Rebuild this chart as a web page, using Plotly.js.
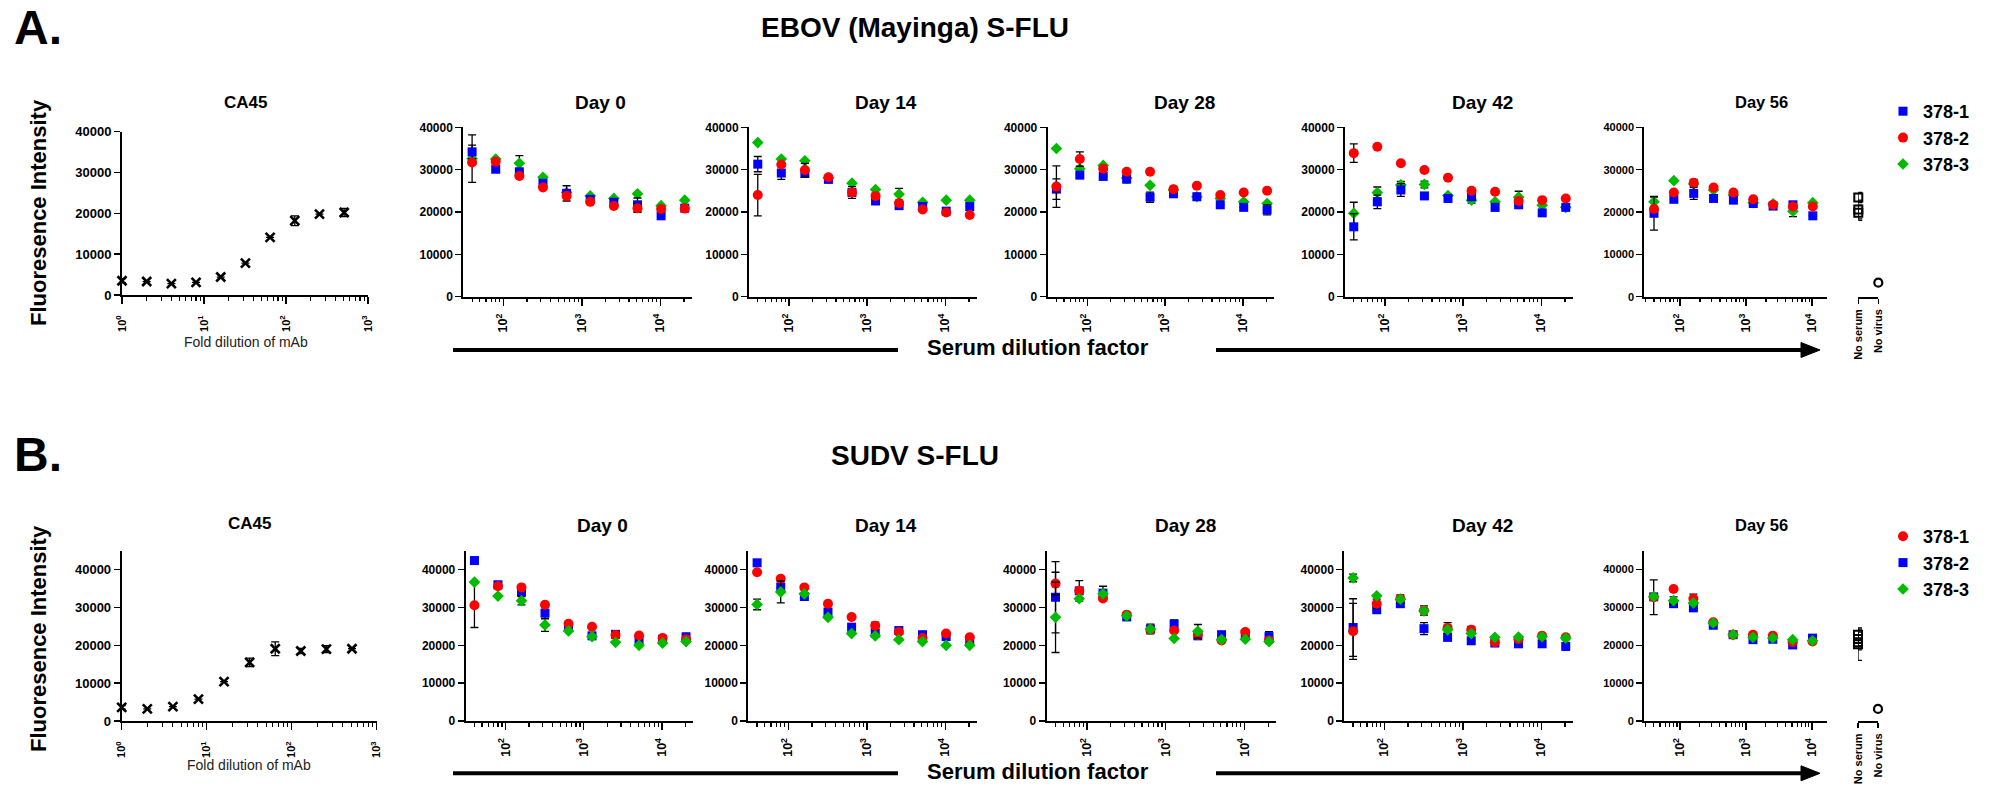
<!DOCTYPE html>
<html><head><meta charset="utf-8">
<script src="https://cdn.plot.ly/plotly-3.0.1.min.js"></script>
<style>html,body{margin:0;padding:0;background:#fff}#chart{width:1992px;height:786px}</style>
</head><body><div id="chart"></div>
<script>
// ---------------- DATA ----------------
const serumDilutions = [40, 80, 160, 320, 640, 1280, 2560, 5120, 10240, 20480];
const mabDilutions = [1, 2, 4, 8, 16, 32, 64, 128, 256, 512];
const dayLabels = ['Day 0', 'Day 14', 'Day 28', 'Day 42', 'Day 56'];
const controlLabels = ['No serum', 'No virus'];
const seriesNames = ['378-1', '378-2', '378-3'];
const serumTickVals = [100, 1000, 10000];
const serumTickText = ['10<sup>2</sup>', '10<sup>3</sup>', '10<sup>4</sup>'];
const mabTickVals = [1, 10, 100, 1000];
const mabTickText = ['10<sup>0</sup>', '10<sup>1</sup>', '10<sup>2</sup>', '10<sup>3</sup>'];
const yTickVals = [0, 10000, 20000, 30000, 40000];
const yTickText = ['0', '10000', '20000', '30000', '40000'];

// A. EBOV (Mayinga) S-FLU
const ebovCA45 = [3500, 3300, 2800, 3100, 4400, 7800, 14100, 18200, 19800, 20200];
const ebovCA45Err = [500, 0, 0, 0, 0, 0, 0, 1200, 0, 1000];
const ebov_378_1 = [
  [34200, 30100, 29500, 26800, 24400, 23000, 22300, 21700, 19100, 20900],
  [31300, 29200, 29100, 27700, 24600, 22600, 21500, 21300, 20200, 21300],
  [25400, 28700, 28400, 27800, 23500, 24300, 23600, 21700, 21100, 20500],
  [16500, 22400, 25200, 23800, 23200, 23600, 21100, 21700, 19800, 21100],
  [19700, 23000, 24400, 23200, 22800, 22000, 21400, 21700, 19100, 21700]];
const ebov_378_1_err = [
  [1600, 0, 0, 0, 1800, 0, 0, 1600, 0, 0],
  [1800, 1500, 0, 0, 1400, 0, 0, 0, 0, 0],
  [2400, 0, 0, 900, 1200, 0, 800, 0, 0, 1200],
  [3100, 1600, 1500, 0, 0, 0, 800, 0, 0, 0],
  [4000, 0, 1400, 0, 0, 0, 0, 0, 0, 0]];
const ebov_378_2 = [
  [31700, 31900, 28500, 25800, 23800, 22400, 21400, 20900, 20700, 20800],
  [24000, 31200, 29900, 28200, 24600, 23800, 22100, 20600, 19900, 19300],
  [26000, 32500, 30200, 29500, 29500, 25400, 26200, 24000, 24600, 25000],
  [33900, 35400, 31500, 29900, 28100, 25000, 24800, 22600, 22800, 23200],
  [20700, 24600, 26900, 25800, 24600, 23000, 21700, 21300, 21300, 20900]];
const ebov_378_2_err = [
  [0, 0, 0, 0, 0, 0, 0, 1000, 0, 0],
  [4900, 0, 1600, 0, 0, 0, 0, 0, 0, 0],
  [4900, 1700, 0, 0, 0, 0, 0, 0, 0, 0],
  [2200, 0, 0, 0, 0, 0, 0, 0, 0, 0],
  [0, 0, 800, 0, 0, 0, 0, 0, 0, 0]];
const ebov_378_3 = [
  [32600, 32500, 31500, 28200, 24600, 23800, 23200, 24300, 21500, 22800],
  [36400, 32500, 32100, 28000, 26800, 25300, 24200, 22300, 22800, 22800],
  [35000, 30200, 31000, 28000, 26300, 25200, 23600, 23200, 22400, 22000],
  [19700, 24600, 26400, 26500, 23900, 22800, 22400, 23500, 21600, 21100],
  [22400, 27400, 26600, 25200, 24000, 22200, 21900, 20200, 22200, 22400]];
const ebov_378_3_err = [
  [5600, 0, 1800, 0, 0, 0, 0, 0, 0, 0],
  [0, 0, 0, 0, 0, 0, 1400, 0, 0, 0],
  [0, 0, 0, 0, 0, 0, 0, 0, 0, 0],
  [2600, 1300, 800, 800, 0, 700, 0, 1400, 0, 0],
  [1100, 0, 0, 0, 0, 0, 0, 1300, 0, 0]];
const ebovNoSerum = [23400, 20600, 19800];
const ebovNoSerumErr = [1200, 2200, 1800];
const ebovNoVirus = [3300];

// B. SUDV S-FLU
const sudvCA45 = [3600, 3200, 3800, 5800, 10400, 15500, 19100, 18500, 19000, 19100];
const sudvCA45Err = [500, 0, 0, 0, 0, 1100, 1800, 700, 900, 0];
const sudv_378_1 = [
  [30600, 35600, 35300, 30700, 25700, 24900, 22700, 22600, 21900, 21600],
  [39300, 37600, 35300, 31000, 27500, 25200, 23500, 21900, 23100, 22100],
  [36300, 34400, 32400, 28100, 24100, 23900, 22800, 21300, 23500, 21300],
  [23700, 31000, 32300, 29200, 24600, 24100, 20800, 21600, 22500, 22100],
  [32700, 34900, 32300, 26100, 22800, 22800, 22500, 20800, 21000, 21600]];
const sudv_378_1_err = [
  [5900, 0, 0, 0, 0, 0, 0, 0, 0, 0],
  [0, 0, 0, 0, 0, 900, 0, 0, 0, 0],
  [3000, 2700, 0, 0, 0, 0, 0, 0, 0, 0],
  [7400, 1200, 1000, 1200, 1400, 900, 0, 0, 0, 0],
  [4600, 0, 1200, 0, 0, 0, 0, 0, 0, 0]];
const sudv_378_2 = [
  [42400, 36000, 34200, 28500, 25000, 22500, 22900, 21500, 21600, 22200],
  [41800, 35400, 32900, 28800, 24800, 23200, 23900, 22800, 22300, 21500],
  [32700, 34400, 33800, 27500, 24300, 25600, 22500, 22800, 23000, 22300],
  [24700, 29400, 31000, 24400, 22100, 21200, 20600, 20400, 20400, 19700],
  [32800, 31000, 29900, 25300, 22800, 21500, 21600, 20100, 21900, 21600]];
const sudv_378_2_err = [
  [0, 0, 1200, 1500, 0, 0, 0, 1000, 0, 1000],
  [0, 0, 600, 0, 0, 0, 0, 0, 0, 0],
  [9400, 0, 1800, 0, 1300, 1100, 0, 0, 0, 1300],
  [7600, 0, 0, 1600, 0, 0, 0, 0, 0, 0],
  [0, 0, 0, 0, 0, 0, 0, 0, 0, 0]];
const sudv_378_3 = [
  [36700, 33000, 31800, 25400, 23800, 22300, 20800, 20000, 20600, 21000],
  [30800, 34100, 33600, 27400, 23100, 22500, 21500, 21000, 20000, 20000],
  [27400, 32300, 33600, 27800, 24300, 21800, 23700, 21500, 21600, 21000],
  [37800, 33100, 32200, 29100, 24100, 23100, 22100, 22200, 22300, 21900],
  [32900, 31800, 31200, 25900, 22800, 22100, 21900, 21500, 21200, 22200]];
const sudv_378_3_err = [
  [0, 0, 1100, 1700, 0, 0, 0, 0, 0, 0],
  [1400, 2900, 0, 0, 0, 0, 0, 0, 0, 0],
  [9300, 0, 0, 0, 0, 0, 1800, 0, 0, 0],
  [1000, 0, 0, 0, 0, 0, 0, 0, 0, 0],
  [0, 1000, 0, 0, 0, 0, 0, 0, 0, 0]];
const sudvNoSerum = [22800, 21700, 20800, 20300];
const sudvNoSerumErr = [1500, 1800, 2000, 4300];
const sudvNoVirus = [3200];

// ---------------- STYLE / LAYOUT ----------------
const W = 1992, H = 786;
const FONT = 'Arial, "Liberation Sans", Helvetica, sans-serif';
const BLUE = '#0000FF', RED = '#FF0000', GREEN = '#00BB00';
const fx = px => px / W;
const fy = py => 1 - py / H;
const axKey = (p, n) => p + 'axis' + (n === 1 ? '' : n);
const ref = (p, n) => p + (n === 1 ? '' : n);

const serumMinor = [], mabMinor = [];
[10, 100, 1000, 10000].forEach(d => { for (let k = 2; k <= 9; k++) serumMinor.push(k * d); });
[1, 10, 100].forEach(d => { for (let k = 2; k <= 9; k++) mabMinor.push(k * d); });

const layout = {
  width: W, height: H, margin: {l: 0, r: 0, t: 0, b: 0, autoexpand: false},
  paper_bgcolor: 'white', plot_bgcolor: 'rgba(0,0,0,0)',
  font: {family: FONT, color: 'black'},
  showlegend: true, annotations: [], shapes: []
};
const traces = [];

function yAxis(n, xn, y0, y1, ymax, size) {
  layout[axKey('y', n)] = {
    domain: [fy(y0), fy(y1)], range: [0, ymax], anchor: ref('x', xn),
    showline: true, linecolor: 'black', linewidth: 2,
    ticks: 'outside', ticklen: 6, tickwidth: 1.5, tickcolor: 'black',
    tickmode: 'array', tickvals: yTickVals, ticktext: yTickText,
    tickfont: {family: FONT, size: size, color: 'black', weight: 'bold'},
    showgrid: false, zeroline: false, fixedrange: true
  };
}
function xLogAxis(n, yn, x0, x1, range, tv, tt, minor, size, standoff) {
  layout[axKey('x', n)] = {
    type: 'log', domain: [fx(x0), fx(x1)], range: range, anchor: ref('y', yn),
    showline: true, linecolor: 'black', linewidth: 2,
    ticks: 'outside', ticklen: 7, tickwidth: 1.5, tickcolor: 'black',
    tickmode: 'array', tickvals: tv, ticktext: tt, tickangle: -90,
    ticklabelstandoff: standoff,
    minor: {tickmode: 'array', tickvals: minor, ticks: 'outside', ticklen: 3.5, tickwidth: 1.2, tickcolor: 'black', showgrid: false},
    tickfont: {family: FONT, size: size, color: 'black', weight: 'bold'},
    showgrid: false, zeroline: false, fixedrange: true
  };
}
function xCatAxis(n, yn, x0, x1) {
  layout[axKey('x', n)] = {
    type: 'category', domain: [fx(x0), fx(x1)], range: [0, 1], anchor: ref('y', yn),
    categoryorder: 'array', categoryarray: controlLabels,
    showline: true, linecolor: 'black', linewidth: 2,
    ticks: 'outside', ticklen: 5, tickwidth: 1.5, tickcolor: 'black',
    tickangle: -90, ticklabelstandoff: 1,
    tickfont: {family: FONT, size: 11, color: 'black', weight: 'bold'},
    showgrid: false, zeroline: false, fixedrange: true
  };
}
const errStyle = arr => ({type: 'data', array: arr, visible: true, color: 'black', thickness: 1.3, width: 4});

function addSeries(xn, yn, vals, errs, st, showlegend, legend) {
  traces.push({
    type: 'scatter', mode: 'markers', x: serumDilutions, y: vals,
    xaxis: ref('x', xn), yaxis: ref('y', yn), name: st.name,
    legend: legend, legendrank: st.rank, showlegend: showlegend,
    marker: {symbol: st.symbol, size: st.size, color: st.color, line: {width: 0}},
    error_y: errStyle(errs), cliponaxis: false, hoverinfo: 'skip'
  });
}
function addCA45(xn, yn, vals, errs) {
  traces.push({
    type: 'scatter', mode: 'markers', x: mabDilutions, y: vals,
    xaxis: ref('x', xn), yaxis: ref('y', yn), showlegend: false,
    marker: {symbol: 'x-thin', size: 9, color: 'black', line: {width: 2.6, color: 'black'}},
    error_y: errStyle(errs), cliponaxis: false, hoverinfo: 'skip'
  });
}
function addControls(xn, yn, noSerum, noSerumErr, noVirus) {
  traces.push({
    type: 'scatter', mode: 'markers', x: noSerum.map(() => controlLabels[0]), y: noSerum,
    xaxis: ref('x', xn), yaxis: ref('y', yn), showlegend: false,
    marker: {symbol: 'square-open', size: 8, color: 'black', line: {width: 2, color: 'black'}},
    error_y: errStyle(noSerumErr), cliponaxis: false, hoverinfo: 'skip'
  });
  traces.push({
    type: 'scatter', mode: 'markers', x: noVirus.map(() => controlLabels[1]), y: noVirus,
    xaxis: ref('x', xn), yaxis: ref('y', yn), showlegend: false,
    marker: {symbol: 'circle-open', size: 8, color: 'black', line: {width: 2.2, color: 'black'}},
    cliponaxis: false, hoverinfo: 'skip'
  });
}
function ann(text, px, py, size, extra) {
  layout.annotations.push(Object.assign({
    text: text, x: fx(px), y: fy(py), xref: 'paper', yref: 'paper', showarrow: false,
    xanchor: 'center', yanchor: 'middle',
    font: {family: FONT, size: size, color: 'black', weight: 'bold'}
  }, extra || {}));
}
function arrowRow(y) {
  layout.shapes.push({type: 'line', xref: 'paper', yref: 'paper', x0: fx(453), x1: fx(898), y0: fy(y), y1: fy(y), line: {color: 'black', width: 4}});
  layout.shapes.push({type: 'line', xref: 'paper', yref: 'paper', x0: fx(1216), x1: fx(1803), y0: fy(y), y1: fy(y), line: {color: 'black', width: 4}});
  layout.shapes.push({type: 'path', xref: 'paper', yref: 'paper', fillcolor: 'black', line: {color: 'black', width: 1},
    path: 'M ' + fx(1801) + ' ' + fy(y - 7.5) + ' L ' + fx(1820) + ' ' + fy(y) + ' L ' + fx(1801) + ' ' + fy(y + 7.5) + ' Z'});
}

const rows = [
  {
    letter: 'A.', letterY: 28, title: 'EBOV (Mayinga) S-FLU', titleY: 28,
    ca45: {x0: 122, x1: 368, y0: 295, y1: 131.7, vals: ebovCA45, errs: ebovCA45Err, titleX: 245, titleY: 102, labY: 342, labX: 245.5, yLabY: 213},
    yBottom: 296.7, yTop: 127.3, ymax: 40000,
    panels: [[463.3, 691.7], [749, 976.7], [1047.7, 1274], [1345, 1572.7], [1644.3, 1827.3]],
    titleXs: [600, 885.8, 1184.7, 1482, 1761.7], panelTitleY: 102,
    cat: [1858.3, 1878.3],
    series: [
      {name: seriesNames[2], vals: ebov_378_3, errs: ebov_378_3_err, color: GREEN, symbol: 'diamond', size: 9, rank: 3},
      {name: seriesNames[0], vals: ebov_378_1, errs: ebov_378_1_err, color: BLUE, symbol: 'square', size: 9, rank: 1},
      {name: seriesNames[1], vals: ebov_378_2, errs: ebov_378_2_err, color: RED, symbol: 'circle', size: 10, rank: 2}],
    noSerum: ebovNoSerum, noSerumErr: ebovNoSerumErr, noVirus: ebovNoVirus,
    arrowY: 350, arrowTextY: 347, legend: 'legend', legendTop: 93
  },
  {
    letter: 'B.', letterY: 454, title: 'SUDV S-FLU', titleY: 455,
    ca45: {x0: 121.7, x1: 376.7, y0: 721, y1: 550.7, vals: sudvCA45, errs: sudvCA45Err, titleX: 249, titleY: 523.5, labY: 765, labX: 249, yLabY: 639},
    yBottom: 721, yTop: 550.7, ymax: 45000,
    panels: [[465.7, 693], [748.3, 976.7], [1046.7, 1276], [1344.3, 1572.7], [1644, 1827]],
    titleXs: [602, 885.8, 1185, 1482, 1761.7], panelTitleY: 525,
    cat: [1858, 1878],
    series: [
      {name: seriesNames[1], vals: sudv_378_2, errs: sudv_378_2_err, color: BLUE, symbol: 'square', size: 9, rank: 2},
      {name: seriesNames[0], vals: sudv_378_1, errs: sudv_378_1_err, color: RED, symbol: 'circle', size: 10, rank: 1},
      {name: seriesNames[2], vals: sudv_378_3, errs: sudv_378_3_err, color: GREEN, symbol: 'diamond', size: 9, rank: 3}],
    noSerum: sudvNoSerum, noSerumErr: sudvNoSerumErr, noVirus: sudvNoVirus,
    arrowY: 773.3, arrowTextY: 771, legend: 'legend2', legendTop: 518
  }
];

rows.forEach((row, r) => {
  const xb = r * 7, yb = r * 6;
  const c = row.ca45;
  yAxis(yb + 1, xb + 1, c.y0, c.y1, row.ymax, 13);
  xLogAxis(xb + 1, yb + 1, c.x0, c.x1, [0, 3], mabTickVals, mabTickText, mabMinor, 11, 7);
  addCA45(xb + 1, yb + 1, c.vals, c.errs);
  ann('CA45', c.titleX, c.titleY, 17);
  ann('Fold dilution of mAb', c.labX, c.labY, 14, {font: {family: FONT, size: 14, color: '#222', weight: 'normal'}});
  ann('Fluoresence Intensity', 38, c.yLabY, 22, {textangle: -90});
  row.panels.forEach((p, d) => {
    const n = d + 2;
    const last = d === 4;
    yAxis(yb + n, xb + n, row.yBottom, row.yTop, row.ymax, last ? 11 : 12);
    xLogAxis(xb + n, yb + n, p[0], p[1], last ? [1.455, 4.23] : [1.49, 4.40], serumTickVals, serumTickText, serumMinor, 12.5, 3);
    row.series.forEach(s => addSeries(xb + n, yb + n, s.vals[d], s.errs[d], s, d === 0, row.legend));
    ann(dayLabels[d], row.titleXs[d], row.panelTitleY, last ? 16.5 : 19);
  });
  xCatAxis(xb + 7, yb + 6, row.cat[0], row.cat[1]);
  addControls(xb + 7, yb + 6, row.noSerum, row.noSerumErr, row.noVirus);
  ann(row.letter, 12, row.letterY, 48, {xanchor: 'left'});
  ann(row.title, 915, row.titleY, 28);
  ann('Serum dilution factor', 1038, row.arrowTextY, 22);
  arrowRow(row.arrowY);
  layout[row.legend] = {
    x: fx(1883), y: fy(row.legendTop), xanchor: 'left', yanchor: 'top',
    bgcolor: 'rgba(0,0,0,0)', borderwidth: 0, tracegroupgap: 0,
    font: {family: FONT, size: 18, color: 'black', weight: 'bold'}
  };
});

Plotly.newPlot('chart', traces, layout, {staticPlot: true, displayModeBar: false});
</script>
</body></html>
